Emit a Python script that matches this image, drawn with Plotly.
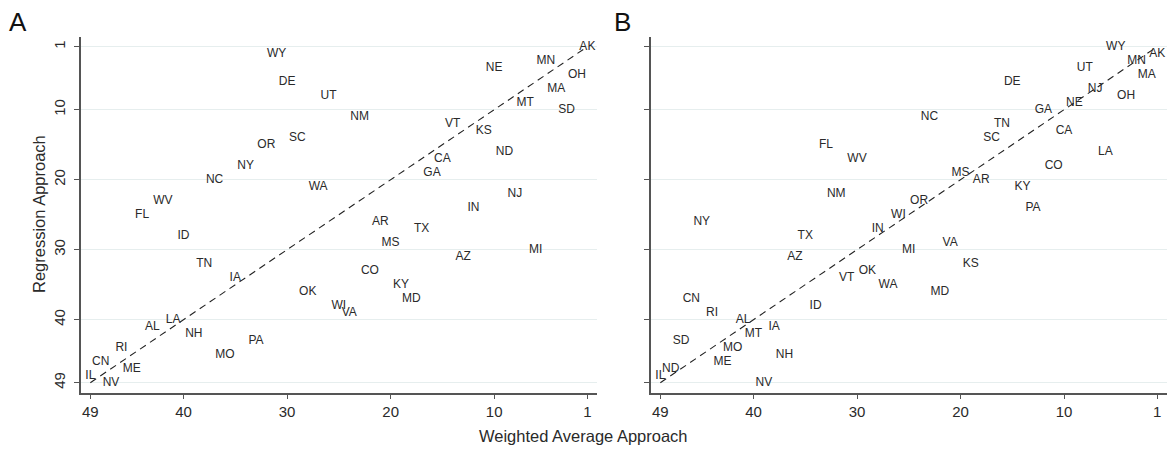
import plotly.graph_objects as go

# Panel A: state, weighted-average rank (x), regression rank (y)
states_a = ["WY","DE","UT","SC","OR","NY","NC","WA","WV","FL",
            "AK","MN","NE","OH","MA","MT","SD","NM","VT","KS",
            "ND","CA","GA","NJ","IN","AR","TX","MS","MI","AZ",
            "CO","KY","MD","WI","VA","ID","TN","IA","OK","LA",
            "AL","NH","PA","RI","MO","CN","ME","IL","NV"]
wavg_a = [31,30,26,29,32,34,37,27,42,44,
          1,5,10,2,4,7,3,23,14,11,
          9,15,16,8,12,21,17,20,6,13,
          22,19,18,25,24,40,38,35,28,41,
          43,39,33,46,36,48,45,49,47]
reg_a = [2,6,8,14,15,18,20,21,23,25,
         1,3,4,5,7,9,10,11,12,13,
         16,17,19,22,24,26,27,29,30,31,
         33,35,37,38,39,28,32,34,36,40,
         41,42,43,44,45,46,47,48,49]

# Panel B
states_b = ["FL","WV","NM","WY","AK","MN","UT","MA","DE","NJ",
            "OH","NE","GA","NC","TN","SC","CA","LA","CO","MS",
            "AR","KY","OR","PA","WI","NY","IN","TX","MI","VA",
            "AZ","KS","OK","VT","WA","MD","CN","ID","RI","AL",
            "IA","MT","SD","MO","NH","ME","ND","IL","NV"]
wavg_b = [33,30,32,5,1,3,8,2,15,7,
          4,9,12,23,16,17,10,6,11,20,
          18,14,24,13,26,45,28,35,25,21,
          36,19,29,31,27,22,46,34,44,41,
          38,40,47,42,37,43,48,49,39]
reg_b = [15,17,22,1,2,3,4,5,6,7,
         8,9,10,11,12,14,13,16,18,19,
         20,21,23,24,25,26,27,28,30,29,
         31,32,33,34,35,36,37,38,39,40,
         41,42,43,44,45,46,47,48,49]

tick_vals = [49, 40, 30, 20, 10, 1]
diag = [49, 1]

W, H = 1167, 449
FONT = "Liberation Sans, Arial, Helvetica, sans-serif"
TXT = "#2a2a2a"
AXC = "#555555"
GRID = "#e6eeee"

fig = go.Figure()

for xs, ys, labs, xa, ya in [(wavg_a, reg_a, states_a, "x", "y"),
                             (wavg_b, reg_b, states_b, "x2", "y2")]:
    fig.add_trace(go.Scatter(x=diag, y=diag, mode="lines",
                             line=dict(color="#222222", width=1.1, dash="7px,5px"),
                             xaxis=xa, yaxis=ya, showlegend=False, hoverinfo="skip"))
    fig.add_trace(go.Scatter(x=xs, y=ys, text=labs, mode="text",
                             textposition="middle center",
                             textfont=dict(family=FONT, size=12, color=TXT),
                             xaxis=xa, yaxis=ya, showlegend=False))

def px2x(p):
    return p / W

def py2y(p):
    return 1 - p / H

xr = [49.93, 0.1]
yr = [50.4, -0.43]
ydom = [py2y(392.5), py2y(36.7)]

common_x = dict(range=xr, tickvals=tick_vals, ticktext=[str(v) for v in tick_vals],
                showgrid=False, zeroline=False, showline=True, linecolor=AXC, linewidth=1.5,
                ticks="outside", ticklen=5, tickwidth=1.2, tickcolor=AXC,
                tickfont=dict(family=FONT, size=15, color=TXT), automargin=False)
common_y = dict(range=yr, tickvals=tick_vals, ticktext=[str(v) for v in tick_vals],
                showgrid=True, gridcolor=GRID, gridwidth=1, zeroline=False,
                showline=True, linecolor=AXC, linewidth=1.5,
                ticks="outside", ticklen=5, tickwidth=1.2, tickcolor=AXC,
                tickangle=-90, ticklabelstandoff=3,
                tickfont=dict(family=FONT, size=15, color=TXT), automargin=False)

def ann(text, x, y, size, color, angle=0):
    return dict(text=text, x=px2x(x), y=py2y(y), xref="paper", yref="paper",
                xanchor="center", yanchor="middle", textangle=angle,
                showarrow=False, font=dict(family=FONT, size=size, color=color))

fig.update_layout(
    width=W, height=H,
    margin=dict(l=0, r=0, t=0, b=0),
    paper_bgcolor="white", plot_bgcolor="white",
    xaxis=dict(domain=[px2x(80.7), px2x(596.7)], anchor="y", **common_x),
    yaxis=dict(domain=ydom, anchor="x", **common_y),
    xaxis2=dict(domain=[px2x(650.7), px2x(1166.5)], anchor="y2", **common_x),
    yaxis2=dict(domain=ydom, anchor="x2", showticklabels=False, **common_y),
    annotations=[
        ann("A", 18, 22, 26, "#111111"),
        ann("B", 622, 22, 26, "#111111"),
        ann("Regression Approach", 39, 214, 16.5, TXT, -90),
        ann("Weighted Average Approach", 583, 436, 16.5, TXT),
    ],
)

fig.write_html("out.html", config={"displayModeBar": False},
               post_script="document.body.style.margin='0px';document.body.style.padding='0px';")
